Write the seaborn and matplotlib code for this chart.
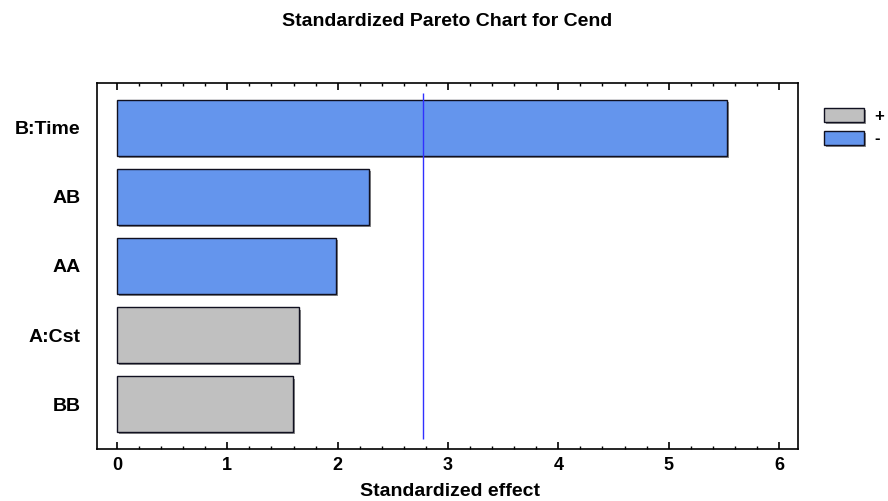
import matplotlib
matplotlib.use("Agg")
import matplotlib.pyplot as plt
import matplotlib.patheffects as pe
from matplotlib.ticker import MultipleLocator
import seaborn as sns
import pandas as pd

# ---- data ----
factors = ["B:Time", "AB", "AA", "A:Cst", "BB"]
effects = [5.53, 2.28, 1.985, 1.647, 1.598]
signs = ["-", "-", "-", "+", "+"]
critical_value = 2.776
legend_order = ["+", "-"]
colors = {"+": "#C0C0C0", "-": "#6495ED"}

df = pd.DataFrame({"factor": factors, "effect": effects, "sign": signs})

sns.set_style("white")
FONT = ["Liberation Sans", "DejaVu Sans"]
plt.rcParams["font.family"] = FONT
plt.rcParams["font.weight"] = "bold"
for k in ["text.color", "axes.labelcolor", "xtick.color", "ytick.color"]:
    plt.rcParams[k] = "black"

fig = plt.figure(figsize=(8.88, 5.01), dpi=100)
ax = fig.add_axes([97/888, 1-449/501, (798-97)/888, (449-83)/501])

sns.barplot(data=df, x="effect", y="factor", hue="sign", hue_order=legend_order,
            palette=colors, order=factors, orient="h", dodge=False, width=0.8,
            saturation=1, edgecolor="#101020", linewidth=1.0, ax=ax, legend=True)

for p in ax.patches:
    p.set_path_effects([pe.SimplePatchShadow(offset=(1.5, -1.5), shadow_rgbFace="#707070", alpha=0.8),
                        pe.Normal()])

ax.vlines(critical_value, -0.5, 4.5, color="#3030FF", linewidth=1.0, zorder=3)

ax.set_xlim(-0.181, 6.172)
ax.set_ylim(4.65, -0.65)
ax.xaxis.set_major_locator(MultipleLocator(1))
ax.xaxis.set_minor_locator(MultipleLocator(0.2))
ax.tick_params(axis="x", which="major", direction="in", length=5, width=1.2,
               top=True, bottom=True, labelsize=13, pad=6, color="black", labelcolor="black")
ax.tick_params(axis="x", which="minor", direction="in", length=2.5, width=1.0,
               top=True, bottom=True, color="black")
ax.tick_params(axis="y", length=0, labelsize=14, pad=12, labelcolor="black")
for lab in ax.get_xticklabels() + ax.get_yticklabels():
    lab.set_fontweight("bold")

for s in ax.spines.values():
    s.set_color("black")
    s.set_linewidth(1.2)

ax.set_xlabel("Standardized effect", fontsize=14, fontweight="bold", color="black")
ax.xaxis.label.set_va("center")
ax.xaxis.set_label_coords(0.504, (449 - 492) / 366)
ax.set_ylabel("")
fig.suptitle("Standardized Pareto Chart for Cend", x=447/888, y=1-22/501, va="center",
             fontsize=14, fontweight="bold", color="black")

handles, labels = ax.get_legend_handles_labels()
leg = ax.legend(handles, labels, loc="upper left", bbox_to_anchor=(824/888, 1-108/501),
                bbox_transform=fig.transFigure, frameon=False, handlelength=2.4,
                handleheight=0.9, handletextpad=0.6, labelspacing=0.42,
                prop={"weight": "bold", "size": 12}, borderpad=0, borderaxespad=0)
for t in leg.get_texts():
    t.set_color("black")

fig.savefig("out.png", dpi=100)
